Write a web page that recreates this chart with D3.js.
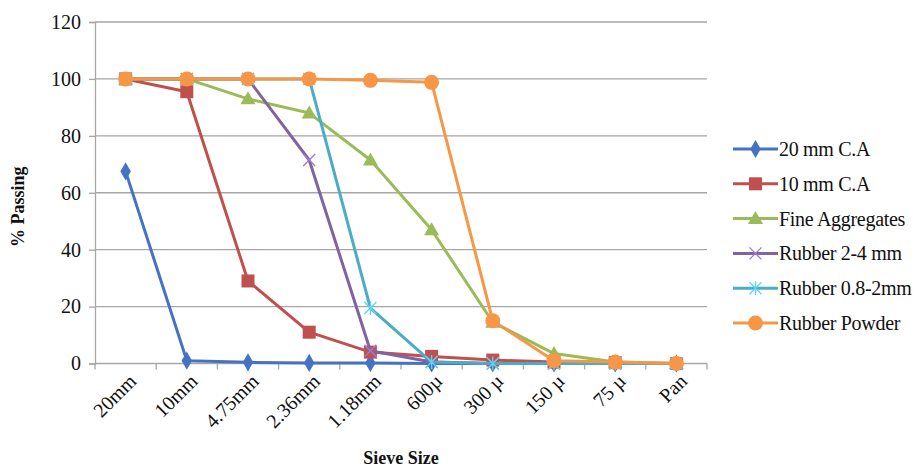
<!DOCTYPE html>
<html>
<head>
<meta charset="utf-8">
<script src="https://cdn.jsdelivr.net/npm/d3@7"></script>
<style>
  html, body { margin: 0; padding: 0; background: #fff; }
  svg { display: block; }
  svg text { font-family: "Liberation Serif", "Times New Roman", serif; }
</style>
</head>
<body>
<svg id="chart" width="924" height="469"></svg>
<script>
// Sieve sizes (x categories)
const sieves = ["20mm", "10mm", "4.75mm", "2.36mm", "1.18mm", "600µ", "300 µ", "150 µ", "75 µ", "Pan"];
const yTicks = [0, 20, 40, 60, 80, 100, 120];

// % passing for each material
const ca20 = [67.5, 1, 0.4, 0.2, 0.2, 0, 0, 0, 0, 0];
const ca10 = [100, 95.5, 29, 11, 4, 2.5, 1.2, 0.5, 0.3, 0];
const fineAgg = [100, 100, 93, 88, 71.5, 47, 14.5, 3.5, 0.5, 0];
const rubber24 = [100, 100, 100, 71.5, 4.5, 0.5, 0, 0, 0, 0];
const rubber082 = [100, 100, 100, 100, 19.5, 0.5, 0, 0, 0, 0];
const rubberPowder = [100, 100, 100, 100, 99.5, 98.8, 15, 1, 0.5, 0];

const seriesNames = ["20 mm C.A", "10 mm C.A", "Fine Aggregates", "Rubber 2-4 mm", "Rubber 0.8-2mm", "Rubber Powder"];
const seriesColors = ["#4472C4", "#C0504D", "#9BBB59", "#8064A2", "#4BACC6", "#F79646"];
const seriesMarkers = ["diamond", "square", "triangle", "x", "star", "circle"];
const seriesValues = [ca20, ca10, fineAgg, rubber24, rubber082, rubberPowder];

const series = seriesNames.map((name, i) => ({
  name, color: seriesColors[i], marker: seriesMarkers[i], values: seriesValues[i]
}));

const FONT = "Liberation Serif, Times New Roman, serif";
const INK = "#111";

const svg = d3.select("#chart");
const plot = { left: 95, right: 707, top: 22, bottom: 363.5 };

const x = d3.scaleBand().domain(sieves).range([plot.left, plot.right]);
const y = d3.scaleLinear().domain([0, 120]).range([plot.bottom, plot.top]);
const cx = d => x(d) + x.bandwidth() / 2;

// Horizontal gridlines
svg.append("g")
  .selectAll("line")
  .data(yTicks.filter(t => t > 0))
  .join("line")
  .attr("x1", plot.left).attr("x2", plot.right)
  .attr("y1", d => y(d)).attr("y2", d => y(d))
  .attr("stroke", "#a6a6a6").attr("stroke-width", 1.3);

// Y axis
const yAxis = svg.append("g")
  .attr("transform", `translate(${plot.left},0)`)
  .call(d3.axisLeft(y).tickValues(yTicks).tickSize(6).tickPadding(8));
yAxis.attr("font-family", FONT);
yAxis.select(".domain").attr("stroke", "#a6a6a6").attr("stroke-width", 1.3);
yAxis.selectAll(".tick line").attr("stroke", "#a6a6a6").attr("stroke-width", 1.3);
yAxis.selectAll("text").attr("font-size", 20).attr("fill", INK);

// X axis: tick marks at category boundaries
const xAxisG = svg.append("g").attr("transform", `translate(0,${plot.bottom})`);
xAxisG.append("line")
  .attr("x1", plot.left).attr("x2", plot.right)
  .attr("stroke", "#a6a6a6").attr("stroke-width", 1.3);
const boundaries = sieves.map(d => x(d)).concat([plot.right]);
xAxisG.selectAll("line.b")
  .data(boundaries)
  .join("line").attr("class", "b")
  .attr("x1", d => d).attr("x2", d => d)
  .attr("y1", 0).attr("y2", 6)
  .attr("stroke", "#a6a6a6").attr("stroke-width", 1.3);
xAxisG.selectAll("text")
  .data(sieves)
  .join("text")
  .attr("transform", d => `translate(${cx(d) + 7},${14}) rotate(-45)`)
  .attr("text-anchor", "end")
  .attr("dy", "0.35em")
  .attr("font-family", FONT)
  .attr("font-size", 20)
  .attr("fill", INK)
  .text(d => d);

// Axis titles
svg.append("text")
  .attr("transform", `translate(24,${(plot.top + plot.bottom) / 2 + 14}) rotate(-90)`)
  .attr("text-anchor", "middle")
  .attr("font-family", FONT)
  .attr("font-size", 18).attr("font-weight", "bold").attr("fill", INK)
  .text("% Passing");
svg.append("text")
  .attr("x", 401).attr("y", 464)
  .attr("text-anchor", "middle")
  .attr("font-family", FONT)
  .attr("font-size", 18).attr("font-weight", "bold").attr("fill", INK)
  .text("Sieve Size");

// Marker drawing
function drawMarker(g, type, color) {
  switch (type) {
    case "diamond":
      g.append("path").attr("d", d3.symbol(d3.symbolDiamond, 95)()).attr("fill", color);
      break;
    case "square":
      g.append("rect").attr("x", -6.5).attr("y", -6.5).attr("width", 13).attr("height", 13).attr("fill", color);
      break;
    case "triangle":
      g.append("path").attr("d", "M0,-7.5L7.5,5.5L-7.5,5.5Z").attr("fill", color);
      break;
    case "circle":
      g.append("circle").attr("r", 7.5).attr("fill", color);
      break;
    case "x":
      g.append("path").attr("d", "M-6,-6L6,6M-6,6L6,-6").attr("stroke", color)
        .attr("stroke-width", 1.3).attr("fill", "none");
      break;
    case "star":
      g.append("path").attr("d", "M-6,-6L6,6M-6,6L6,-6M0,-7L0,7").attr("stroke", color)
        .attr("stroke-width", 1.3).attr("fill", "none");
      break;
  }
}
const markerColor = s => d3.color(s.color).brighter(s.marker === "x" || s.marker === "star" ? 0.6 : 0).formatHex();

const line = d3.line().x((d, i) => cx(sieves[i])).y(d => y(d));

const seriesG = svg.append("g").selectAll("g.series")
  .data(series)
  .join("g").attr("class", "series");

seriesG.each(function (s) {
  const g = d3.select(this);
  g.append("path")
    .attr("d", line(s.values))
    .attr("fill", "none")
    .attr("stroke", s.color)
    .attr("stroke-width", 3)
    .attr("stroke-linejoin", "round");
  s.values.forEach((v, i) => {
    const m = g.append("g").attr("transform", `translate(${cx(sieves[i])},${y(v)})`);
    drawMarker(m, s.marker, markerColor(s));
  });
});

// Legend
const legend = svg.append("g").attr("transform", "translate(733,149)");
const lg = legend.selectAll("g")
  .data(series)
  .join("g")
  .attr("transform", (d, i) => `translate(0,${i * 34.8})`);
lg.append("line")
  .attr("x1", 0).attr("x2", 45)
  .attr("stroke", d => d.color).attr("stroke-width", 3);
lg.each(function (s) {
  const m = d3.select(this).append("g").attr("transform", "translate(22.5,0)");
  drawMarker(m, s.marker, markerColor(s));
});
lg.append("text")
  .attr("x", 46).attr("dy", "0.35em")
  .attr("font-family", FONT)
  .attr("font-size", 20).attr("fill", INK)
  .attr("letter-spacing", -0.3)
  .text(d => d.name);
</script>
</body>
</html>
